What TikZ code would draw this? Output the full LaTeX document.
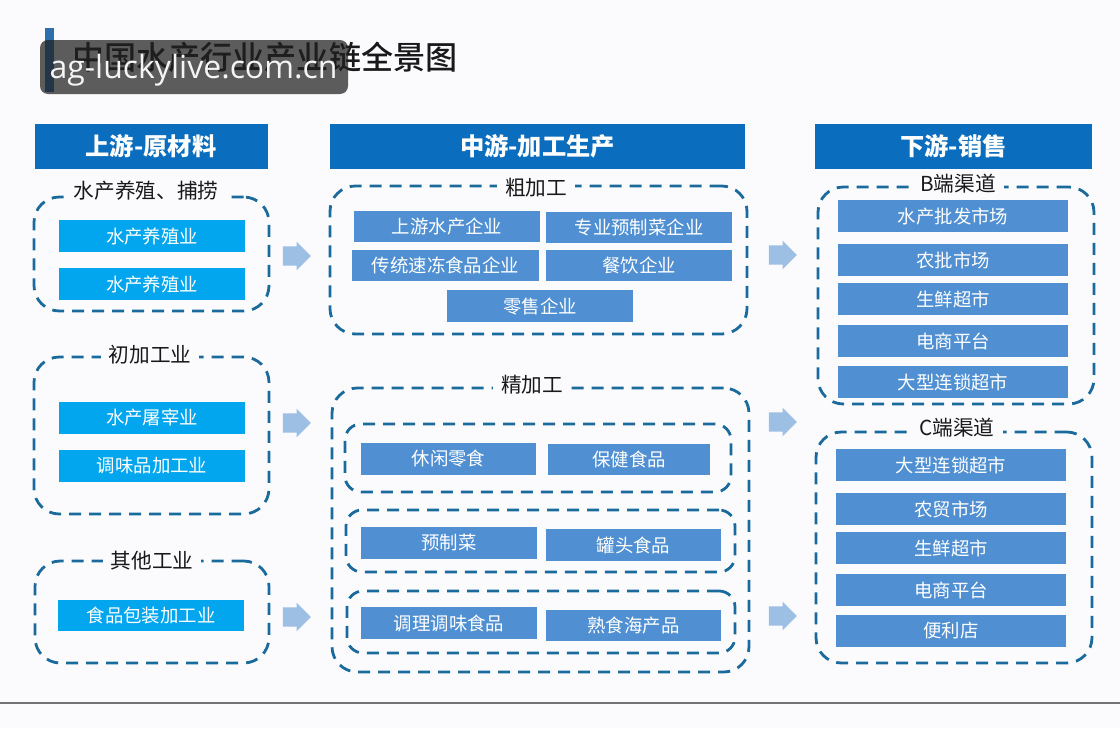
\documentclass[tikz,border=0pt]{standalone}
\usepackage{fontspec}
\setmainfont{Noto Sans CJK SC}
\newfontfamily\wmfont{Open Sans}
\newfontfamily\titlefont{Noto Sans CJK SC Medium}
\usetikzlibrary{shapes.arrows}
\definecolor{pagebg}{HTML}{FBFBFE}
\definecolor{headblue}{HTML}{0B6DBD}
\definecolor{cyanbox}{HTML}{02A6EE}
\definecolor{midbox}{HTML}{5090D2}
\definecolor{dashblue}{HTML}{1B6A9C}
\definecolor{arrowblue}{HTML}{9DBFE4}
\definecolor{titlebar}{HTML}{2F6FB0}
\newcommand{\fs}[1]{\fontsize{#1}{#1}\selectfont}
\tikzset{
  x=0.75pt,y=-0.75pt,
  base/.style={inner sep=0pt,outer sep=0pt,align=center},
  headbox/.style={base,fill=headblue,text=white,font=\fs{18.2}\bfseries},
  cyanitem/.style={base,fill=cyanbox,text=white,font=\fs{13.8}},
  miditem/.style={base,fill=midbox,text=white,font=\fs{13.8}},
  grp/.style={base,draw=dashblue,line width=2.1pt,rounded corners=19pt,dash pattern=on 9pt off 6pt},
  sgrp/.style={grp,rounded corners=12pt},
  grplabel/.style={fill=pagebg,inner xsep=6pt,inner ysep=1pt,text=black!90,font=\fs{15.5}},
  flow/.style={single arrow,fill=arrowblue,inner sep=0pt,outer sep=0pt,minimum height=21pt,single arrow head extend=3.5pt,single arrow tip angle=90,shape border rotate=0},
}
\newcommand{\bx}[7]{\node[#6,minimum width={(#4-#2)*0.75pt},minimum height={(#5-#3)*0.75pt}] (#1) at ({(#2+#4)/2},{(#3+#5)/2}) {#7};}
\newcommand{\shaft}{\rule{0pt}{14pt}}
\begin{document}
\begin{tikzpicture}
\useasboundingbox (0,0) rectangle (1120,728);
\fill[pagebg] (0,0) rectangle (1120,728);
% title
\bx{tbar}{44.5}{28}{54}{92}{base,fill=titlebar}{}
\node[base,anchor=west,font=\titlefont\fs{24.1},text=black!90] (title) at (72,57) {中国水产行业产业链全景图};
\node[base,fill=black!75!gray,fill opacity=0.72,rounded corners=6pt,minimum width=231pt,minimum height=40.5pt] (wmbox) at (194,67) {};
\node[base,anchor=center,font=\wmfont\fs{24},text=white!92!gray] (wm) at (193.5,70) {ag-luckylive.com.cn};
% headers
\bx{h1}{34.5}{123.5}{267.5}{168.5}{headbox}{上游-原材料}
\bx{h2}{330}{124}{745}{168.5}{headbox}{中游-加工生产}
\bx{h3}{815}{123.5}{1092}{168.5}{headbox}{下游-销售}
% upstream
\bx{ga}{34}{197}{269}{311}{grp}{}
\node[grplabel] (gal) at (146,191) {水产养殖、捕捞};
\bx{a1}{59}{220}{245}{252}{cyanitem}{水产养殖业}
\bx{a2}{59}{268}{245}{300}{cyanitem}{水产养殖业}
\bx{gb}{34}{357}{269}{514}{grp}{}
\node[grplabel] (gbl) at (150,355) {初加工业};
\bx{b1}{59}{402}{245}{434}{cyanitem}{水产屠宰业}
\bx{b2}{59}{450}{245}{482}{cyanitem}{调味品加工业}
\bx{gc}{35}{561}{269}{663}{grp}{}
\node[grplabel] (gcl) at (152,561) {其他工业};
\bx{c1}{58}{600}{244}{631}{cyanitem}{食品包装加工业}
% midstream rough
\bx{gd}{330}{186}{747}{334}{grp}{}
\node[grplabel] (gdl) at (536,188) {粗加工};
\bx{d1}{354}{211}{540}{242}{miditem}{上游水产企业}
\bx{d2}{546}{212}{732}{243}{miditem}{专业预制菜企业}
\bx{d3}{352}{250}{539}{281}{miditem}{传统速冻食品企业}
\bx{d4}{546}{250}{732}{281}{miditem}{餐饮企业}
\bx{d5}{447}{290}{633}{322}{miditem}{零售企业}
% midstream fine
\bx{ge}{332}{388}{749}{672}{grp}{}
\node[grplabel] (gel) at (532,385) {精加工};
\bx{s1}{345}{424}{731}{492}{sgrp}{}
\bx{e1}{361}{443}{536}{475}{miditem}{休闲零食}
\bx{e2}{548}{444}{710}{475}{miditem}{保健食品}
\bx{s2}{346}{510}{735}{572}{sgrp}{}
\bx{e3}{361}{527}{537}{559}{miditem}{预制菜}
\bx{e4}{546}{529}{721}{561}{miditem}{罐头食品}
\bx{s3}{347}{591}{735}{653}{sgrp}{}
\bx{e5}{361}{607}{537}{639}{miditem}{调理调味食品}
\bx{e6}{546}{610}{721}{641}{miditem}{熟食海产品}
% downstream
\bx{gf}{818}{187}{1094}{404}{grp}{}
\node[grplabel] (gfl) at (958,184) {B端渠道};
\bx{f1}{838}{200}{1068}{232}{miditem}{水产批发市场}
\bx{f2}{838}{244}{1068}{276}{miditem}{农批市场}
\bx{f3}{838}{283}{1068}{315}{miditem}{生鲜超市}
\bx{f4}{838}{325}{1068}{357}{miditem}{电商平台}
\bx{f5}{838}{366}{1068}{398}{miditem}{大型连锁超市}
\bx{gg}{816}{432}{1092}{663}{grp}{}
\node[grplabel] (ggl) at (957,428) {C端渠道};
\bx{g1}{836}{449}{1066}{481}{miditem}{大型连锁超市}
\bx{g2}{836}{493}{1066}{525}{miditem}{农贸市场}
\bx{g3}{836}{532}{1066}{564}{miditem}{生鲜超市}
\bx{g4}{836}{574}{1066}{606}{miditem}{电商平台}
\bx{g5}{836}{615}{1066}{647}{miditem}{便利店}
% flow arrows
\node[flow] (fa1) at (292,256) {\shaft};
\node[flow] (fa2) at (292,423) {\shaft};
\node[flow] (fa3) at (292,617) {\shaft};
\node[flow] (fb1) at (778,255) {\shaft};
\node[flow] (fb2) at (778,422) {\shaft};
\node[flow] (fb3) at (778,616) {\shaft};
% bottom rule
\coordinate (ruleL) at (0,703);
\coordinate (ruleR) at (1120,703);
\draw[gray!90!black,line width=1pt] (ruleL) -- (ruleR);
\end{tikzpicture}
\end{document}
